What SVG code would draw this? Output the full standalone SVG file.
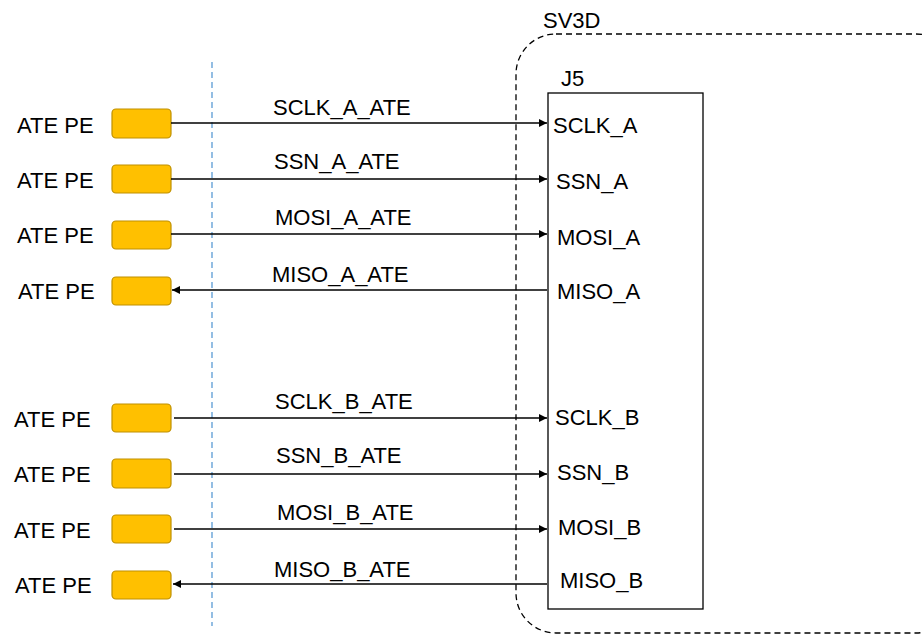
<svg xmlns="http://www.w3.org/2000/svg" width="924" height="635" viewBox="0 0 924 635">
<defs>
<marker id="ah" viewBox="0 0 10 10" refX="10" refY="5" markerWidth="8" markerHeight="8" markerUnits="userSpaceOnUse" orient="auto">
<path d="M0,0 L10,5 L0,10 z" fill="#000"/>
</marker>
</defs>
<style>
text{font-family:"Liberation Sans",Arial,sans-serif;font-size:22px;fill:#000}
.pe{fill:#FFC000;stroke:#BF9000;stroke-width:1.2}
.w{stroke:#000;stroke-width:1.6;fill:none;marker-end:url(#ah)}
</style>
<rect width="924" height="635" fill="#fff"/>
<g id="sv3d">
<rect x="516" y="34" width="440" height="599" rx="40" fill="none" stroke="#000" stroke-width="1.3" stroke-dasharray="6,4"/>
<text x="543" y="28">SV3D</text>
</g>
<line id="boundary" x1="212" y1="62" x2="212" y2="626" stroke="#5B9BD5" stroke-width="1.3" stroke-dasharray="6,4"/>
<g id="j5">
<rect x="548" y="93" width="155" height="516" fill="#fff" stroke="#000" stroke-width="1.3"/>
<text x="561" y="86">J5</text>
<text x="553" y="133">SCLK_A</text>
<text x="556" y="189">SSN_A</text>
<text x="557" y="245">MOSI_A</text>
<text x="557" y="299">MISO_A</text>
<text x="555" y="425">SCLK_B</text>
<text x="557" y="480">SSN_B</text>
<text x="558" y="535">MOSI_B</text>
<text x="560" y="588">MISO_B</text>
</g>
<g id="pe1"><text x="17" y="133">ATE PE</text><rect class="pe" x="112" y="109" width="59" height="29" rx="4"/></g>
<g id="pe2"><text x="17" y="188">ATE PE</text><rect class="pe" x="112" y="165" width="59" height="28" rx="4"/></g>
<g id="pe3"><text x="17" y="243">ATE PE</text><rect class="pe" x="112" y="221" width="59" height="28" rx="4"/></g>
<g id="pe4"><text x="18" y="299">ATE PE</text><rect class="pe" x="112" y="277" width="59" height="28" rx="4"/></g>
<g id="pe5"><text x="14" y="427">ATE PE</text><rect class="pe" x="112" y="404" width="59" height="28" rx="4"/></g>
<g id="pe6"><text x="14" y="482">ATE PE</text><rect class="pe" x="112" y="459" width="59" height="29" rx="4"/></g>
<g id="pe7"><text x="14" y="538">ATE PE</text><rect class="pe" x="112" y="515" width="59" height="28" rx="4"/></g>
<g id="pe8"><text x="15" y="593">ATE PE</text><rect class="pe" x="112" y="571" width="59" height="28" rx="4"/></g>
<g id="connectors">
<line class="w" x1="171" y1="123" x2="547" y2="123"/>
<line class="w" x1="171" y1="179" x2="547" y2="179"/>
<line class="w" x1="171" y1="234" x2="547" y2="234"/>
<line class="w" x1="547" y1="290" x2="172" y2="290"/>
<line class="w" x1="174" y1="418" x2="547" y2="418"/>
<line class="w" x1="174" y1="474" x2="547" y2="474"/>
<line class="w" x1="174" y1="529" x2="547" y2="529"/>
<line class="w" x1="547" y1="584" x2="173" y2="584"/>
<text x="273" y="115">SCLK_A_ATE</text>
<text x="274" y="169">SSN_A_ATE</text>
<text x="275" y="225">MOSI_A_ATE</text>
<text x="272" y="282">MISO_A_ATE</text>
<text x="275" y="409">SCLK_B_ATE</text>
<text x="276" y="463">SSN_B_ATE</text>
<text x="277" y="520">MOSI_B_ATE</text>
<text x="274" y="577">MISO_B_ATE</text>
</g>
</svg>
